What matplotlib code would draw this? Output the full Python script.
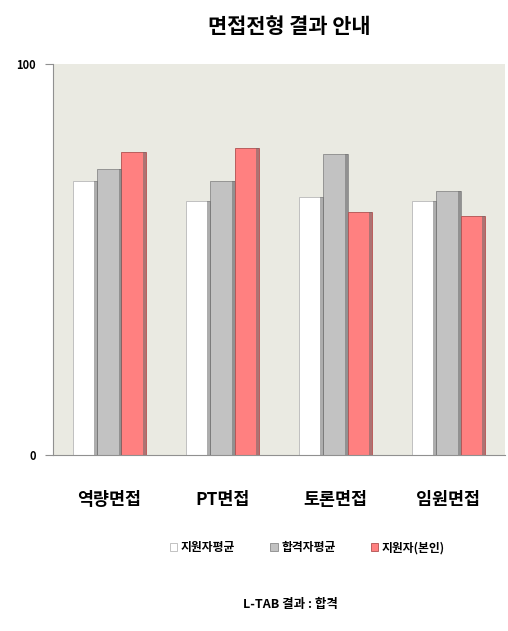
import numpy as np
import matplotlib.pyplot as plt

plt.rcParams['font.family'] = ['Noto Sans CJK KR', 'DejaVu Sans']

categories = ['역량면접', 'PT면접', '토론면접', '임원면접']
series_names = ['지원자평균', '합격자평균', '지원자(본인)']
applicant_avg = [70, 65, 66, 65]
passed_avg = [73, 70, 77, 67.5]
me = [77.5, 78.5, 62, 61]
colors = ['#ffffff', '#c2c2c2', '#ff8080']
edge = ['#b8b8b8', '#8a8a8a', '#b05050']

fig = plt.figure(figsize=(5.08, 6.31), dpi=100)
ax = fig.add_axes([0.104, 0.279, 0.89, 0.62])
ax.set_facecolor('#eaeae2')

x = np.arange(len(categories))
w = 0.215
for i, (vals, c, e) in enumerate(zip([applicant_avg, passed_avg, me], colors, edge)):
    xs = x + (i - 1) * w
    ax.bar(xs, vals, w, color=c, edgecolor=e, linewidth=0.6, zorder=2, label=series_names[i])
    # dark shadow strip on right side of each bar
    ax.bar(xs + w / 2 - 0.025, vals, 0.03, color='#6a6a6a', alpha=0.55, zorder=3, align='edge', linewidth=0)

ax.set_xlim(-0.5, 3.5)
ax.set_ylim(0, 100)
ax.set_yticks([0, 100])
ax.set_yticklabels(['0', '100'], fontsize=8, fontweight='heavy')
ax.set_xticks(x)
ax.set_xticklabels(categories, fontsize=12.5, fontweight='bold')
ax.tick_params(axis='x', length=0, pad=26)
ax.tick_params(axis='y', length=6, color='#909090', pad=6)
for s in ['top', 'right']:
    ax.spines[s].set_visible(False)
ax.spines['left'].set_color('#909090')
ax.spines['bottom'].set_color('#909090')

fig.text(0.569, 0.958, '면접전형 결과 안내', ha='center', va='center', fontsize=15, fontweight='heavy')

handles, labels = ax.get_legend_handles_labels()
fig.legend(handles, labels, loc='center', bbox_to_anchor=(0.605, 0.132), ncol=3, frameon=False,
           handlelength=0.6, handleheight=0.6, columnspacing=3.0, handletextpad=0.3,
           prop={'weight': 'bold', 'size': 8.5})

fig.text(0.571, 0.042, 'L-TAB 결과 : 합격', ha='center', va='center', fontsize=9, fontweight='heavy')

fig.savefig('out.png', dpi=100)
